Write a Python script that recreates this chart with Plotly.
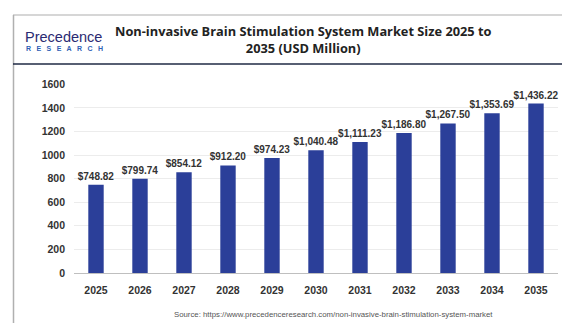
import plotly.graph_objects as go

# the page body keeps its default 8px margin, so the figure is drawn 8px in
W, H = 562, 321
OFF = 8

years = ["2025", "2026", "2027", "2028", "2029", "2030", "2031", "2032", "2033", "2034", "2035"]
market_size = [748.82, 799.74, 854.12, 912.20, 974.23, 1040.48, 1111.23, 1186.80, 1267.50, 1353.69, 1436.22]
y_ticks = [0, 200, 400, 600, 800, 1000, 1200, 1400, 1600]

title_lines = ["Non-invasive Brain Stimulation System Market Size 2025 to", "2035 (USD Million)"]
source = "Source: https://www.precedenceresearch.com/non-invasive-brain-stimulation-system-market"


def px(x):
    # screen pixel -> paper fraction
    return (x - OFF) / W


def py(y):
    return 1 - (y - OFF) / H


labels = [f"<b>${v:,.2f}</b>" for v in market_size]

fig = go.Figure(
    go.Bar(
        x=years,
        y=market_size,
        width=0.35,
        marker=dict(color="#2B3F99", line=dict(width=0)),
        text=labels,
        texttemplate="%{text}",
        textposition="outside",
        constraintext="none",
        textfont=dict(family="Liberation Sans, Arial", size=10, color="#333333"),
        cliponaxis=False,
    )
)

fig.update_layout(
    width=W,
    height=H,
    margin=dict(l=0, r=0, t=0, b=0),
    paper_bgcolor="white",
    plot_bgcolor="white",
    showlegend=False,
    font=dict(family="Liberation Sans, Arial"),
    xaxis=dict(
        domain=[px(74), px(558)],
        type="category",
        range=[-0.5, 10.5],
        tickvals=years,
        ticktext=[f"<b>{y}</b>" for y in years],
        showgrid=False,
        showline=True,
        linecolor="#bfbfbf",
        linewidth=1,
        ticks="",
        tickfont=dict(size=10.5, color="#333333", family="Liberation Sans, Arial"),
        ticklabelstandoff=7,
    ),
    yaxis=dict(
        domain=[py(277), py(81)],
        range=[0, 1600],
        tickvals=y_ticks,
        ticktext=[f"<b>{t}</b>" for t in y_ticks],
        showgrid=True,
        gridcolor="#ececec",
        gridwidth=1,
        zeroline=False,
        showline=False,
        ticks="",
        tickfont=dict(size=10.5, color="#333333", family="Liberation Sans, Arial"),
        ticklabelstandoff=8,
    ),
)

# frame: top rule, left rule, header divider
fig.add_shape(type="line", xref="paper", yref="paper", x0=px(13), x1=1, y0=py(9), y1=py(9),
              line=dict(color="#c8c8c8", width=1.5))
fig.add_shape(type="line", xref="paper", yref="paper", x0=px(13.5), x1=px(13.5), y0=py(9), y1=0,
              line=dict(color="#b0b0b0", width=1.5))
fig.add_shape(type="line", xref="paper", yref="paper", x0=px(13), x1=1, y0=py(60), y1=py(60),
              line=dict(color="#1f2a44", width=1.5))

# logo
fig.add_annotation(x=px(23), y=py(32), xref="paper", yref="paper", xanchor="left", yanchor="middle",
                   text="Precedence", showarrow=False,
                   font=dict(family="Liberation Sans, Arial", size=14.5, color="#2b2a72"))
fig.add_annotation(x=px(24), y=py(44), xref="paper", yref="paper", xanchor="left", yanchor="middle",
                   text="<b>R\u2002 E\u2002 S\u2002 E\u2002 A\u2002 R\u2002 C\u2002 H</b>", showarrow=False,
                   font=dict(family="Liberation Sans, Arial", size=7, color="#2f5fb5"))

# title
fig.add_annotation(x=px(303), y=py(35), xref="paper", yref="paper", xanchor="center", yanchor="middle",
                   text="<b>" + title_lines[0] + "<br>" + title_lines[1] + "</b>", showarrow=False,
                   font=dict(family="Open Sans, Liberation Sans", size=12.8, color="#222222"))

# source
fig.add_annotation(x=px(333), y=py(320), xref="paper", yref="paper", xanchor="center", yanchor="middle",
                   text=source, showarrow=False,
                   font=dict(family="Liberation Sans, Arial", size=7.8, color="#555555"))

fig.write_html("out.html")
